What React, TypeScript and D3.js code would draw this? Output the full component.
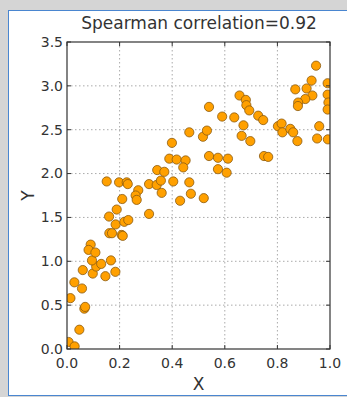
import * as d3 from "d3"

// values
const xs = [
  0.006, 0.029, 0.047, 0.066, 0.069, 0.013, 0.028, 0.057, 0.06, 0.098,
  0.111, 0.13, 0.095, 0.167, 0.146, 0.184, 0.09, 0.082, 0.108, 0.161,
  0.171, 0.208, 0.212, 0.185, 0.16, 0.218, 0.233, 0.189, 0.21, 0.151,
  0.198, 0.227, 0.231, 0.271, 0.261, 0.265, 0.312, 0.312, 0.343, 0.341,
  0.357, 0.36, 0.37, 0.404, 0.399, 0.389, 0.417, 0.451, 0.442, 0.43,
  0.465, 0.471, 0.52, 0.54, 0.574, 0.574, 0.612, 0.607, 0.465, 0.517,
  0.532, 0.54, 0.59, 0.636, 0.664, 0.697, 0.671, 0.656, 0.68, 0.682,
  0.693, 0.727, 0.746, 0.749, 0.765, 0.802, 0.816, 0.819, 0.849, 0.86,
  0.876, 0.959, 0.951, 0.992, 0.868, 0.911, 0.93, 0.947, 0.933, 0.906,
  0.879, 0.878, 0.991, 0.991, 0.994, 0.991,
]
const ys = [
  0.08, 0.03, 0.22, 0.46, 0.48, 0.58, 0.76, 0.69, 0.9, 0.86,
  0.94, 0.97, 1.01, 1.01, 0.83, 0.88, 1.19, 1.13, 1.1, 1.32,
  1.32, 1.3, 1.29, 1.42, 1.51, 1.45, 1.47, 1.59, 1.71, 1.91,
  1.9, 1.9, 1.88, 1.81, 1.75, 1.7, 1.54, 1.88, 2.04, 1.87,
  1.92, 1.78, 2.02, 1.91, 2.35, 2.17, 2.16, 2.15, 2.07, 1.69,
  1.9, 1.77, 1.72, 2.2, 2.18, 2.05, 2.17, 2.01, 2.47, 2.42,
  2.49, 2.76, 2.65, 2.64, 2.43, 2.37, 2.55, 2.89, 2.84, 2.78,
  2.72, 2.66, 2.61, 2.2, 2.19, 2.54, 2.57, 2.47, 2.51, 2.47,
  2.37, 2.54, 2.4, 2.39, 2.96, 2.97, 3.06, 3.23, 2.89, 2.85,
  2.81, 2.77, 3.03, 2.9, 2.81, 2.73,
]
const xTicks = [0, 0.2, 0.4, 0.6, 0.8, 1.0]
const yTicks = [0, 0.5, 1.0, 1.5, 2.0, 2.5, 3.0, 3.5]
const title = "Spearman correlation=0.92"

const W = 347
const H = 397
const plot = { left: 67, right: 330, top: 42, bottom: 349 }
const font = "DejaVu Sans, sans-serif"

export default function App() {
  const x = d3.scaleLinear().domain([0, 1]).range([plot.left, plot.right])
  const y = d3.scaleLinear().domain([0, 3.5]).range([plot.bottom, plot.top])
  const points = xs.map((v, i) => ({ x: v, y: ys[i] }))

  return (
    <svg width={W} height={H} style={{ position: "absolute", left: 0, top: 0 }}>
      <defs>
        <clipPath id="plotClip">
          <rect x={plot.left} y={plot.top} width={plot.right - plot.left} height={plot.bottom - plot.top} />
        </clipPath>
      </defs>
      {/* window frame */}
      <rect x={0} y={0} width={W} height={H} fill="#d5d5d5" />
      <rect x={8.5} y={10.5} width={W} height={385} fill="#ffffff" stroke="#4a86d0" strokeWidth={1} />

      <text x={199} y={29} textAnchor="middle" fontFamily={font} fontSize={17} fill="#333">
        {title}
      </text>

      {/* grid */}
      {xTicks.slice(1, -1).map((t) => (
        <line key={"gx" + t} x1={x(t)} x2={x(t)} y1={plot.top} y2={plot.bottom}
          stroke="#aaa" strokeWidth={1} strokeDasharray="1.5,2.5" />
      ))}
      {yTicks.slice(1, -1).map((t) => (
        <line key={"gy" + t} x1={plot.left} x2={plot.right} y1={y(t)} y2={y(t)}
          stroke="#aaa" strokeWidth={1} strokeDasharray="1.5,2.5" />
      ))}

      {/* points */}
      <g clipPath="url(#plotClip)">
        {points.map((p, i) => (
          <circle key={i} cx={x(p.x)} cy={y(p.y)} r={4.6} fill="#ffa000" stroke="#8a5a10" strokeWidth={0.8} />
        ))}
      </g>

      {/* ticks, inward on all sides */}
      {xTicks.map((t) => (
        <g key={"tx" + t} stroke="#333">
          <line x1={x(t)} x2={x(t)} y1={plot.bottom} y2={plot.bottom - 4} />
          <line x1={x(t)} x2={x(t)} y1={plot.top} y2={plot.top + 4} />
        </g>
      ))}
      {yTicks.map((t) => (
        <g key={"ty" + t} stroke="#333">
          <line x1={plot.left} x2={plot.left + 4} y1={y(t)} y2={y(t)} />
          <line x1={plot.right} x2={plot.right - 4} y1={y(t)} y2={y(t)} />
        </g>
      ))}
      <rect x={plot.left} y={plot.top} width={plot.right - plot.left} height={plot.bottom - plot.top}
        fill="none" stroke="#333" strokeWidth={1.2} />

      {/* tick labels */}
      {xTicks.map((t) => (
        <text key={"lx" + t} x={x(t)} y={plot.bottom + 19} textAnchor="middle" fontFamily={font} fontSize={14} fill="#333">
          {d3.format(".1f")(t)}
        </text>
      ))}
      {yTicks.map((t) => (
        <text key={"ly" + t} x={plot.left - 4} y={y(t)} dy="0.35em" textAnchor="end" fontFamily={font} fontSize={14} fill="#333">
          {d3.format(".1f")(t)}
        </text>
      ))}

      {/* axis labels */}
      <text x={(plot.left + plot.right) / 2} y={390} textAnchor="middle" fontFamily={font} fontSize={17} fill="#333">X</text>
      <text transform={`translate(34, ${(plot.top + plot.bottom) / 2}) rotate(-90)`} textAnchor="middle"
        fontFamily={font} fontSize={17} fill="#333">Y</text>
    </svg>
  )
}
